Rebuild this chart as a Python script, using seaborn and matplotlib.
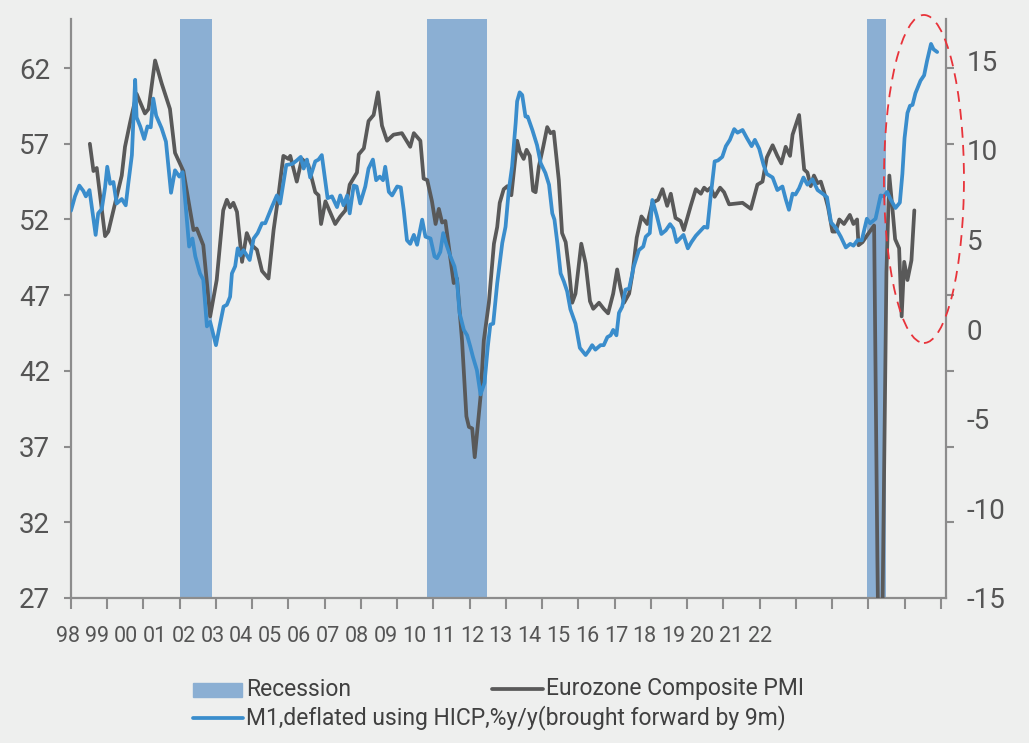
import numpy as np
import matplotlib
matplotlib.use("Agg")
import matplotlib.pyplot as plt
from matplotlib.patches import Rectangle, Ellipse
from matplotlib.lines import Line2D
import seaborn as sns

# Eurozone composite PMI (left axis), decimal years
pmi_t = [1998.52, 1998.62, 1998.71, 1998.94, 1999.03, 1999.22, 1999.40, 1999.49, 1999.63, 1999.81,
         2000.04, 2000.14, 2000.32, 2000.50, 2000.73, 2000.87, 2001.10, 2001.38, 2001.47, 2001.65,
         2001.84, 2002.02, 2002.20, 2002.30, 2002.39, 2002.48, 2002.58, 2002.72, 2002.85, 2002.99,
         2003.13, 2003.27, 2003.45, 2003.59, 2003.73, 2003.86, 2004.00, 2004.05, 2004.23, 2004.37,
         2004.55, 2004.74, 2004.83, 2004.90, 2005.02, 2005.29, 2005.43, 2005.57, 2005.69, 2005.89,
         2005.94, 2006.08, 2006.21, 2006.35, 2006.47, 2006.58, 2006.72, 2006.90, 2007.13, 2007.36,
         2007.46, 2007.64, 2007.73, 2007.83, 2007.96, 2008.06, 2008.15, 2008.24, 2008.33, 2008.56,
         2008.65, 2008.79, 2008.91, 2008.98, 2009.07, 2009.14, 2009.30, 2009.39, 2009.53, 2009.67,
         2009.76, 2009.83, 2009.94, 2010.04, 2010.15, 2010.31, 2010.38, 2010.49, 2010.57, 2010.66,
         2010.75, 2010.82, 2010.91, 2011.03, 2011.14, 2011.23, 2011.32, 2011.46, 2011.55, 2011.65,
         2011.74, 2011.83, 2011.92, 2012.08, 2012.20, 2012.32, 2012.41, 2012.57, 2012.70, 2012.82,
         2012.96, 2013.07, 2013.16, 2013.26, 2013.40, 2013.49, 2013.61, 2013.74, 2013.90, 2014.04,
         2014.20, 2014.32, 2014.45, 2014.55, 2014.68, 2014.82, 2014.91, 2015.10, 2015.24, 2015.38,
         2015.47, 2015.56, 2015.65, 2015.76, 2015.91, 2016.02, 2016.16, 2016.53, 2016.76, 2016.94,
         2017.08, 2017.20, 2017.36, 2017.49, 2017.60, 2017.72, 2017.84, 2017.91, 2018.09, 2018.23,
         2018.32, 2018.41, 2018.50, 2018.60, 2018.69, 2018.78, 2018.89, 2019.01, 2019.10, 2019.20,
         2019.33, 2019.49, 2019.59, 2019.69, 2019.73, 2019.84, 2019.98, 2020.16, 2020.25, 2020.33,
         2020.42, 2020.50, 2020.58, 2020.67, 2020.74, 2020.85, 2020.92, 2020.99, 2021.08, 2021.19,
         2021.27]
pmi_v = [57.0, 55.2, 55.4, 50.9, 51.2, 53.1, 54.9, 56.8, 58.4, 60.3,
         59.0, 59.3, 62.5, 61.0, 59.3, 56.4, 55.2, 51.3, 51.4, 50.3,
         45.6, 48.0, 52.6, 53.3, 52.8, 53.1, 52.5, 49.2, 51.1, 50.3,
         50.0, 48.6, 48.1, 51.3, 53.7, 56.2, 56.0, 56.2, 54.5, 56.0,
         55.6, 53.8, 53.6, 51.7, 53.2, 51.7, 52.2, 52.6, 54.3, 55.1,
         56.3, 56.7, 58.5, 58.9, 60.4, 58.2, 57.2, 57.6, 57.7, 56.8,
         57.7, 57.2, 54.7, 54.6, 53.2, 51.7, 52.7, 51.8, 51.9, 47.8,
         48.1, 44.0, 39.0, 38.3, 38.2, 36.3, 40.3, 44.0, 46.5, 50.4,
         51.5, 53.1, 54.0, 54.2, 53.6, 57.2, 56.5, 56.0, 56.6, 56.2,
         53.9, 53.8, 55.5, 56.8, 58.1, 57.7, 57.8, 54.6, 51.1, 50.5,
         48.7, 46.5, 47.1, 50.4, 49.1, 46.6, 46.1, 46.5, 46.1, 45.8,
         47.1, 48.7, 47.5, 46.5, 47.1, 48.4, 50.8, 52.2, 51.7, 53.1,
         53.3, 54.0, 52.9, 53.7, 52.1, 51.9, 51.3, 52.9, 54.0, 53.7,
         54.1, 53.9, 54.1, 53.5, 54.1, 53.8, 53.0, 53.1, 52.7, 54.3,
         54.5, 56.1, 56.9, 56.2, 55.7, 56.8, 56.2, 57.6, 58.9, 55.3,
         55.1, 54.2, 54.9, 54.4, 54.5, 53.8, 52.8, 51.2, 51.2, 52.0,
         51.7, 52.3, 51.7, 52.0, 50.3, 50.5, 51.0, 51.6, 29.7, 13.6,
         31.9, 48.5, 54.9, 52.6, 50.7, 50.1, 45.6, 49.2, 48.0, 49.3,
         52.6]

# M1 deflated by HICP, % y/y, brought forward 9m (right axis)
m1_t = [1998.00, 1998.11, 1998.23, 1998.34, 1998.41, 1998.51, 1998.60, 1998.68, 1998.75, 1998.85,
        1998.94, 1999.00, 1999.08, 1999.17, 1999.26, 1999.40, 1999.51, 1999.58, 1999.68, 1999.77,
        1999.81, 1999.91, 2000.02, 2000.11, 2000.20, 2000.27, 2000.35, 2000.50, 2000.62, 2000.69,
        2000.76, 2000.87, 2000.99, 2001.08, 2001.15, 2001.26, 2001.35, 2001.43, 2001.56, 2001.65,
        2001.75, 2001.84, 2002.00, 2002.10, 2002.21, 2002.30, 2002.39, 2002.44, 2002.53, 2002.60,
        2002.67, 2002.76, 2002.93, 2003.04, 2003.15, 2003.27, 2003.36, 2003.54, 2003.68, 2003.77,
        2003.94, 2004.10, 2004.23, 2004.34, 2004.42, 2004.51, 2004.60, 2004.74, 2004.83, 2004.92,
        2005.08, 2005.20, 2005.34, 2005.43, 2005.52, 2005.62, 2005.69, 2005.80, 2005.88, 2005.98,
        2006.12, 2006.21, 2006.33, 2006.42, 2006.52, 2006.61, 2006.67, 2006.77, 2006.86, 2007.00,
        2007.10, 2007.18, 2007.27, 2007.36, 2007.46, 2007.55, 2007.69, 2007.78, 2007.92, 2008.03,
        2008.10, 2008.19, 2008.27, 2008.36, 2008.47, 2008.58, 2008.65, 2008.72, 2008.84, 2008.93,
        2009.02, 2009.09, 2009.20, 2009.30, 2009.41, 2009.50, 2009.57, 2009.65, 2009.76, 2009.90,
        2009.99, 2010.08, 2010.17, 2010.27, 2010.31, 2010.38, 2010.45, 2010.54, 2010.60, 2010.73,
        2010.86, 2010.96, 2011.09, 2011.19, 2011.28, 2011.34, 2011.42, 2011.51, 2011.60, 2011.69,
        2011.78, 2011.92, 2012.04, 2012.20, 2012.29, 2012.38, 2012.47, 2012.61, 2012.70, 2012.80,
        2012.89, 2012.96, 2013.05, 2013.12, 2013.21, 2013.30, 2013.40, 2013.53, 2013.67, 2013.79,
        2013.86, 2013.97, 2014.04, 2014.16, 2014.29, 2014.41, 2014.53, 2014.62, 2014.71, 2014.90,
        2015.02, 2015.12, 2015.24, 2015.38, 2015.47, 2015.56, 2015.65, 2015.76, 2015.85, 2015.97,
        2016.07, 2016.18, 2016.30, 2016.39, 2016.53, 2016.65, 2016.78, 2016.87, 2016.99, 2017.11,
        2017.20, 2017.36, 2017.49, 2017.63, 2017.72, 2017.81, 2017.91, 2017.99, 2018.09, 2018.21,
        2018.32, 2018.46, 2018.60, 2018.74, 2018.86, 2018.97, 2019.10, 2019.24, 2019.38, 2019.50,
        2019.59, 2019.70, 2019.82, 2019.96, 2020.05, 2020.20, 2020.34, 2020.43, 2020.52, 2020.61,
        2020.75, 2020.87, 2020.94, 2021.00, 2021.08, 2021.15, 2021.22, 2021.30, 2021.44, 2021.54,
        2021.62, 2021.73, 2021.80, 2021.90]
m1_v = [6.6, 7.4, 8.0, 7.7, 7.4, 7.75, 6.45, 5.25, 6.45, 6.7,
        7.9, 9.05, 8.1, 8.2, 7.0, 7.25, 6.9, 8.1, 9.7, 13.9,
        11.8, 11.3, 10.6, 11.3, 11.25, 12.85, 11.9, 11.2, 10.45, 9.05,
        7.6, 8.85, 8.5, 8.75, 7.2, 4.6, 5.05, 4.05, 3.1, 2.75,
        0.15, 0.4, -0.9, 0.15, 1.25, 1.35, 1.8, 3.1, 3.5, 4.5,
        4.1, 4.4, 3.85, 5.05, 5.35, 5.9, 5.9, 6.8, 7.45, 7.0,
        9.15, 9.2, 9.4, 9.6, 8.95, 9.45, 8.45, 9.35, 9.45, 9.7,
        7.3, 7.4, 6.8, 7.45, 6.9, 7.45, 6.45, 8.0, 7.95, 7.0,
        7.95, 8.95, 9.45, 8.3, 8.5, 8.3, 9.05, 7.65, 7.45, 7.95,
        7.9, 6.65, 4.95, 4.75, 5.25, 4.7, 6.1, 5.15, 5.05, 4.05,
        3.95, 4.3, 5.35, 4.7, 4.05, 3.5, 2.75, 0.9, -0.05, -0.35,
        -1.0, -1.55, -2.3, -3.65, -3.0, -1.0, 0.25, 0.3, 2.55, 4.8,
        5.7, 7.75, 9.05, 11.5, 12.7, 13.2, 13.05, 11.85, 11.85, 11.1,
        10.25, 9.25, 8.7, 8.05, 6.45, 6.1, 4.8, 3.1, 2.65, 2.1,
        1.1, 0.3, -1.05, -1.45, -1.2, -0.9, -1.15, -0.9, -0.9, -0.45,
        -0.35, -0.05, -0.35, 0.9, 1.25, 2.2, 2.25, 3.5, 4.4, 4.6,
        5.15, 5.35, 7.2, 6.35, 5.3, 5.5, 5.85, 5.6, 4.85, 5.25,
        4.5, 4.85, 5.2, 5.5, 5.7, 5.65, 7.4, 9.35, 9.4, 9.6,
        10.2, 10.55, 11.15, 10.95, 11.1, 10.65, 10.2, 10.55, 10.05, 9.15,
        8.65, 8.45, 7.75, 7.95, 7.25, 6.65, 7.55, 7.5, 7.85, 8.45,
        8.05, 8.35, 7.75, 7.55, 7.35, 5.95, 5.65, 5.15, 4.55, 4.75,
        4.65, 4.95, 4.95, 6.15, 5.9, 6.15, 7.45, 7.4, 7.65, 7.25,
        6.75, 7.05, 8.65, 10.65, 12.05, 12.45, 12.5, 13.15, 13.85, 14.15,
        14.95, 15.9, 15.6, 15.45]

recession_start = [2001.01, 2007.83, 2019.96]
recession_end = [2001.90, 2009.49, 2020.49]

year_labels = ["98", "99", "00", "01", "02", "03", "04", "05", "06", "07", "08", "09", "10",
               "11", "12", "13", "14", "15", "16", "17", "18", "19", "20", "21", "22"]
left_ticks = [27, 32, 37, 42, 47, 52, 57, 62]
right_ticks = [-15, -10, -5, 0, 5, 10, 15]

bg = "#EEEFEE"
gray = "#595959"
blue = "#3A8DCC"
band = "#8BAFD3"
axis_col = "#8C8C8C"
txt = "#555555"

sns.set_style("white")
plt.rcParams["font.family"] = ["Roboto", "DejaVu Sans"]
plt.rcParams["axes.unicode_minus"] = False

fig = plt.figure(figsize=(10.29, 7.43), dpi=100, facecolor=bg)
ax = fig.add_axes([71 / 1029, 145 / 743, 875 / 1029, 579 / 743])
ax.set_facecolor(bg)

for s, e in zip(recession_start, recession_end):
    ax.axvspan(s, e, color=band, lw=0, zorder=1)

sns.lineplot(x=pmi_t, y=pmi_v, ax=ax, color=gray, lw=2.7, zorder=3)

ax2 = ax.twinx()
sns.lineplot(x=m1_t, y=m1_v, ax=ax2, color=blue, lw=2.7, zorder=3)

x0, x1 = 1998.0, 1998.0 + 874 / 36.2
l0, l1 = 27, 65.24
r0, r1 = -15, 17.29
ax.set_xlim(x0, x1)
ax.set_ylim(l0, l1)
ax2.set_ylim(r0, r1)

ax.set_xticks(np.arange(1998, 2023))
ax.set_xticklabels([])
ax.set_yticks(left_ticks)
ax.set_yticklabels([str(v) for v in left_ticks])
ax.tick_params(axis="x", bottom=True, direction="out", length=8, width=1.5, color=axis_col)
ax.tick_params(axis="y", left=True, direction="out", length=5, width=1.5, color=axis_col,
               labelsize=20, labelcolor=txt, pad=10)

# right axis: labels on their own scale, tick marks at the left grid positions
ax2.set_yticks(right_ticks)
ax2.set_yticklabels([str(v) for v in right_ticks])
ax2.tick_params(axis="y", which="major", right=True, length=0, labelsize=20, labelcolor=txt, pad=15)
minor = [r0 + (v - l0) / (l1 - l0) * (r1 - r0) for v in left_ticks]
ax2.set_yticks(minor, minor=True)
ax2.tick_params(axis="y", which="minor", right=True, direction="out", length=6, width=1.5,
                color=axis_col)

for a in (ax, ax2):
    a.set_xlabel("")
    a.set_ylabel("")
    a.spines["top"].set_visible(False)
    for side in ("left", "right", "bottom"):
        a.spines[side].set_color(axis_col)
        a.spines[side].set_linewidth(1.6)
ax.spines["right"].set_visible(False)
ax2.spines["left"].set_visible(False)
ax2.spines["bottom"].set_visible(False)

# year labels, spaced independently of the tick marks
for i, lab in enumerate(year_labels):
    ax.text((68.3 + 28.82 * i - 71) / 875, -39 / 579, lab, transform=ax.transAxes,
            ha="center", va="center", fontsize=15.5, color=txt)

# red dashed highlight ellipse
ell = Ellipse((0.9748, 0.7237), 80 / 875, 328 / 579, transform=ax.transAxes,
              fill=False, ec="#E8333A", lw=1.3, ls=(0, (6, 4)), clip_on=False, zorder=5)
ax2.add_patch(ell)

# legend
fx = lambda px: px / 1029
fy = lambda py: 1 - py / 743
fig.add_artist(Rectangle((fx(193), fy(697)), 49 / 1029, 14 / 743, color=band,
                         transform=fig.transFigure))
fig.text(fx(246), fy(689), "Recession", fontsize=16.5, color="#404040", va="center")
fig.add_artist(Line2D([fx(492), fx(543)], [fy(689)] * 2, color=gray, lw=2.7,
                      transform=fig.transFigure))
fig.text(fx(546), fy(689), "Eurozone Composite PMI", fontsize=16.5, color="#404040", va="center")
fig.add_artist(Line2D([fx(193), fx(243)], [fy(718)] * 2, color=blue, lw=2.7,
                      transform=fig.transFigure))
fig.text(fx(246), fy(718), "M1,deflated using HICP,%y/y(brought forward by 9m)", fontsize=16.5,
         color="#404040", va="center")

fig.savefig("out.png", dpi=100, facecolor=bg)
